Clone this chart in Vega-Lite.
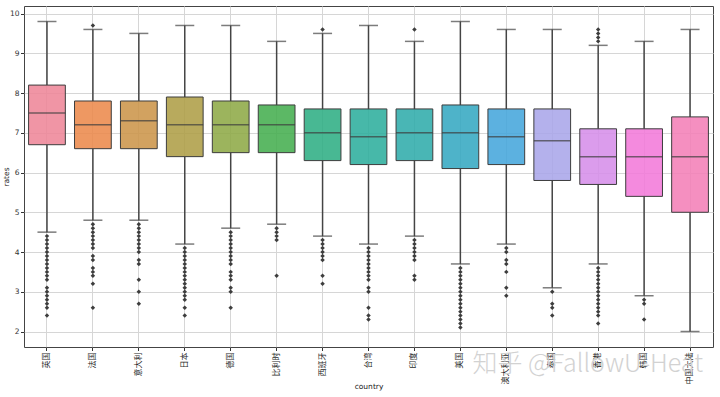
{
  "$schema": "https://vega.github.io/schema/vega-lite/v6.json",
  "width": 689,
  "height": 341,
  "autosize": {"type": "none"},
  "padding": {"left": 24, "top": 6, "right": 7, "bottom": 50},
  "background": "white",
  "title": {
    "text": "知乎 @FallowU-Heat",
    "orient": "bottom",
    "anchor": "end",
    "offset": -38,
    "dx": -10,
    "fontSize": 25,
    "font": "Noto Sans CJK SC",
    "fontWeight": 300,
    "color": "#d2d2d2"
  },
  "config": {
    "view": {"stroke": "#444444", "strokeWidth": 1},
    "font": "DejaVu Sans",
    "axis": {
      "domain": false,
      "labelFontSize": 7.5,
      "labelColor": "#333333",
      "tickColor": "#333333",
      "tickSize": 3.5,
      "labelPadding": 1.5,
      "titleFontSize": 7.5,
      "titleFontWeight": "normal",
      "titleColor": "#222222",
      "gridColor": "#d6d6d6",
      "gridWidth": 1
    }
  },
  "datasets": {
    "boxes": [
      {"country": "英国", "lower": 4.5, "q1": 6.7, "median": 7.5, "q3": 8.2, "upper": 9.8},
      {"country": "法国", "lower": 4.8, "q1": 6.6, "median": 7.2, "q3": 7.8, "upper": 9.6},
      {"country": "意大利", "lower": 4.8, "q1": 6.6, "median": 7.3, "q3": 7.8, "upper": 9.5},
      {"country": "日本", "lower": 4.2, "q1": 6.4, "median": 7.2, "q3": 7.9, "upper": 9.7},
      {"country": "德国", "lower": 4.6, "q1": 6.5, "median": 7.2, "q3": 7.8, "upper": 9.7},
      {"country": "比利时", "lower": 4.7, "q1": 6.5, "median": 7.2, "q3": 7.7, "upper": 9.3},
      {"country": "西班牙", "lower": 4.4, "q1": 6.3, "median": 7.0, "q3": 7.6, "upper": 9.5},
      {"country": "台湾", "lower": 4.2, "q1": 6.2, "median": 6.9, "q3": 7.6, "upper": 9.7},
      {"country": "印度", "lower": 4.4, "q1": 6.3, "median": 7.0, "q3": 7.6, "upper": 9.3},
      {"country": "美国", "lower": 3.7, "q1": 6.1, "median": 7.0, "q3": 7.7, "upper": 9.8},
      {"country": "澳大利亚", "lower": 4.2, "q1": 6.2, "median": 6.9, "q3": 7.6, "upper": 9.6},
      {"country": "泰国", "lower": 3.1, "q1": 5.8, "median": 6.8, "q3": 7.6, "upper": 9.6},
      {"country": "香港", "lower": 3.7, "q1": 5.7, "median": 6.4, "q3": 7.1, "upper": 9.2},
      {"country": "韩国", "lower": 2.9, "q1": 5.4, "median": 6.4, "q3": 7.1, "upper": 9.3},
      {"country": "中国大陆", "lower": 2.0, "q1": 5.0, "median": 6.4, "q3": 7.4, "upper": 9.6}
    ],
    "outliers": [
      {"country": "英国", "rate": 4.4}, {"country": "英国", "rate": 4.3}, {"country": "英国", "rate": 4.2}, {"country": "英国", "rate": 4.1}, {"country": "英国", "rate": 4.0}, {"country": "英国", "rate": 3.9}, {"country": "英国", "rate": 3.8}, {"country": "英国", "rate": 3.7}, {"country": "英国", "rate": 3.6}, {"country": "英国", "rate": 3.5}, {"country": "英国", "rate": 3.4}, {"country": "英国", "rate": 3.3}, {"country": "英国", "rate": 3.1}, {"country": "英国", "rate": 3.0}, {"country": "英国", "rate": 2.9}, {"country": "英国", "rate": 2.8}, {"country": "英国", "rate": 2.7}, {"country": "英国", "rate": 2.6}, {"country": "英国", "rate": 2.4},
      {"country": "法国", "rate": 9.7}, {"country": "法国", "rate": 4.7}, {"country": "法国", "rate": 4.6}, {"country": "法国", "rate": 4.5}, {"country": "法国", "rate": 4.4}, {"country": "法国", "rate": 4.3}, {"country": "法国", "rate": 4.2}, {"country": "法国", "rate": 4.1}, {"country": "法国", "rate": 3.9}, {"country": "法国", "rate": 3.8}, {"country": "法国", "rate": 3.6}, {"country": "法国", "rate": 3.5}, {"country": "法国", "rate": 3.4}, {"country": "法国", "rate": 3.2}, {"country": "法国", "rate": 2.6},
      {"country": "意大利", "rate": 4.7}, {"country": "意大利", "rate": 4.6}, {"country": "意大利", "rate": 4.5}, {"country": "意大利", "rate": 4.4}, {"country": "意大利", "rate": 4.3}, {"country": "意大利", "rate": 4.2}, {"country": "意大利", "rate": 4.1}, {"country": "意大利", "rate": 4.0}, {"country": "意大利", "rate": 3.8}, {"country": "意大利", "rate": 3.7}, {"country": "意大利", "rate": 3.3}, {"country": "意大利", "rate": 3.0}, {"country": "意大利", "rate": 2.7},
      {"country": "日本", "rate": 4.1}, {"country": "日本", "rate": 4.0}, {"country": "日本", "rate": 3.9}, {"country": "日本", "rate": 3.8}, {"country": "日本", "rate": 3.7}, {"country": "日本", "rate": 3.6}, {"country": "日本", "rate": 3.5}, {"country": "日本", "rate": 3.4}, {"country": "日本", "rate": 3.3}, {"country": "日本", "rate": 3.2}, {"country": "日本", "rate": 3.1}, {"country": "日本", "rate": 3.0}, {"country": "日本", "rate": 2.9}, {"country": "日本", "rate": 2.8}, {"country": "日本", "rate": 2.6}, {"country": "日本", "rate": 2.4},
      {"country": "德国", "rate": 4.5}, {"country": "德国", "rate": 4.4}, {"country": "德国", "rate": 4.3}, {"country": "德国", "rate": 4.2}, {"country": "德国", "rate": 4.1}, {"country": "德国", "rate": 4.0}, {"country": "德国", "rate": 3.9}, {"country": "德国", "rate": 3.8}, {"country": "德国", "rate": 3.7}, {"country": "德国", "rate": 3.5}, {"country": "德国", "rate": 3.4}, {"country": "德国", "rate": 3.3}, {"country": "德国", "rate": 3.1}, {"country": "德国", "rate": 3.0}, {"country": "德国", "rate": 2.6},
      {"country": "比利时", "rate": 4.6}, {"country": "比利时", "rate": 4.5}, {"country": "比利时", "rate": 4.4}, {"country": "比利时", "rate": 4.3}, {"country": "比利时", "rate": 3.4},
      {"country": "西班牙", "rate": 9.6}, {"country": "西班牙", "rate": 4.3}, {"country": "西班牙", "rate": 4.2}, {"country": "西班牙", "rate": 4.1}, {"country": "西班牙", "rate": 4.0}, {"country": "西班牙", "rate": 3.9}, {"country": "西班牙", "rate": 3.8}, {"country": "西班牙", "rate": 3.4}, {"country": "西班牙", "rate": 3.2},
      {"country": "台湾", "rate": 4.1}, {"country": "台湾", "rate": 4.0}, {"country": "台湾", "rate": 3.9}, {"country": "台湾", "rate": 3.8}, {"country": "台湾", "rate": 3.7}, {"country": "台湾", "rate": 3.6}, {"country": "台湾", "rate": 3.5}, {"country": "台湾", "rate": 3.4}, {"country": "台湾", "rate": 3.3}, {"country": "台湾", "rate": 3.1}, {"country": "台湾", "rate": 3.0}, {"country": "台湾", "rate": 2.6}, {"country": "台湾", "rate": 2.4}, {"country": "台湾", "rate": 2.3},
      {"country": "印度", "rate": 9.6}, {"country": "印度", "rate": 4.3}, {"country": "印度", "rate": 4.2}, {"country": "印度", "rate": 4.1}, {"country": "印度", "rate": 4.0}, {"country": "印度", "rate": 3.9}, {"country": "印度", "rate": 3.8}, {"country": "印度", "rate": 3.4}, {"country": "印度", "rate": 3.3},
      {"country": "美国", "rate": 3.6}, {"country": "美国", "rate": 3.5}, {"country": "美国", "rate": 3.4}, {"country": "美国", "rate": 3.3}, {"country": "美国", "rate": 3.2}, {"country": "美国", "rate": 3.1}, {"country": "美国", "rate": 3.0}, {"country": "美国", "rate": 2.9}, {"country": "美国", "rate": 2.8}, {"country": "美国", "rate": 2.7}, {"country": "美国", "rate": 2.6}, {"country": "美国", "rate": 2.5}, {"country": "美国", "rate": 2.4}, {"country": "美国", "rate": 2.3}, {"country": "美国", "rate": 2.2}, {"country": "美国", "rate": 2.1},
      {"country": "澳大利亚", "rate": 4.1}, {"country": "澳大利亚", "rate": 4.0}, {"country": "澳大利亚", "rate": 3.8}, {"country": "澳大利亚", "rate": 3.7}, {"country": "澳大利亚", "rate": 3.5}, {"country": "澳大利亚", "rate": 3.1}, {"country": "澳大利亚", "rate": 2.9},
      {"country": "泰国", "rate": 3.0}, {"country": "泰国", "rate": 2.7}, {"country": "泰国", "rate": 2.6}, {"country": "泰国", "rate": 2.4},
      {"country": "香港", "rate": 9.6}, {"country": "香港", "rate": 9.5}, {"country": "香港", "rate": 9.4}, {"country": "香港", "rate": 9.3}, {"country": "香港", "rate": 3.6}, {"country": "香港", "rate": 3.5}, {"country": "香港", "rate": 3.4}, {"country": "香港", "rate": 3.3}, {"country": "香港", "rate": 3.2}, {"country": "香港", "rate": 3.1}, {"country": "香港", "rate": 3.0}, {"country": "香港", "rate": 2.9}, {"country": "香港", "rate": 2.8}, {"country": "香港", "rate": 2.7}, {"country": "香港", "rate": 2.6}, {"country": "香港", "rate": 2.5}, {"country": "香港", "rate": 2.4}, {"country": "香港", "rate": 2.2},
      {"country": "韩国", "rate": 2.8}, {"country": "韩国", "rate": 2.7}, {"country": "韩国", "rate": 2.3}
    ]
  },
  "encoding": {
    "x": {
      "field": "country",
      "type": "nominal",
      "sort": ["英国", "法国", "意大利", "日本", "德国", "比利时", "西班牙", "台湾", "印度", "美国", "澳大利亚", "泰国", "香港", "韩国", "中国大陆"],
      "scale": {"paddingInner": 0, "paddingOuter": 0},
      "axis": {
        "title": "country",
        "labelAngle": -90,
        "labelFont": "Noto Sans CJK SC",
        "labelFontSize": 8,
        "labelColor": "#2a2a2a",
        "bandPosition": 0.5,
        "grid": true,
        "titleY": 41.5,
        "titleBaseline": "alphabetic"
      }
    }
  },
  "layer": [
    {
      "data": {"name": "boxes"},
      "mark": {"type": "rule", "color": "#444444", "strokeWidth": 1.5},
      "encoding": {
        "y": {
          "field": "lower",
          "type": "quantitative",
          "scale": {"domain": [1.61, 10.19], "nice": false, "zero": false},
          "axis": {"title": "rates", "values": [2, 3, 4, 5, 6, 7, 8, 9, 10], "grid": true, "titlePadding": -1}
        },
        "y2": {"field": "q1"}
      }
    },
    {
      "data": {"name": "boxes"},
      "mark": {"type": "rule", "color": "#444444", "strokeWidth": 1.5},
      "encoding": {
        "y": {"field": "q3", "type": "quantitative"},
        "y2": {"field": "upper"}
      }
    },
    {
      "data": {"name": "boxes"},
      "mark": {"type": "bar", "width": {"band": 0.8}, "stroke": "#3d3d3d", "strokeWidth": 1, "fillOpacity": 0.88},
      "encoding": {
        "y": {"field": "q1", "type": "quantitative"},
        "y2": {"field": "q3"},
        "color": {
          "field": "country",
          "type": "nominal",
          "legend": null,
          "scale": {
            "domain": ["英国", "法国", "意大利", "日本", "德国", "比利时", "西班牙", "台湾", "印度", "美国", "澳大利亚", "泰国", "香港", "韩国", "中国大陆"],
            "range": ["#ee8698", "#ec8a4c", "#cc954a", "#ae9e47", "#8eaa47", "#45ae50", "#2fae84", "#2dae9d", "#30acab", "#35a9c2", "#45a6dc", "#aaa6e9", "#d68ee9", "#f27ad9", "#f47fb7"]
          }
        }
      }
    },
    {
      "data": {"name": "boxes"},
      "mark": {"type": "tick", "color": "#3d3d3d", "size": 36.8, "thickness": 1.5},
      "encoding": {"y": {"field": "median", "type": "quantitative"}}
    },
    {
      "data": {"name": "boxes"},
      "mark": {"type": "tick", "color": "#444444", "size": 19, "thickness": 1.5},
      "encoding": {"y": {"field": "lower", "type": "quantitative"}}
    },
    {
      "data": {"name": "boxes"},
      "mark": {"type": "tick", "color": "#444444", "size": 19, "thickness": 1.5},
      "encoding": {"y": {"field": "upper", "type": "quantitative"}}
    },
    {
      "data": {"name": "outliers"},
      "mark": {"type": "point", "shape": "diamond", "filled": true, "color": "#3d3d3d", "size": 20, "opacity": 1},
      "encoding": {"y": {"field": "rate", "type": "quantitative"}}
    }
  ]
}
